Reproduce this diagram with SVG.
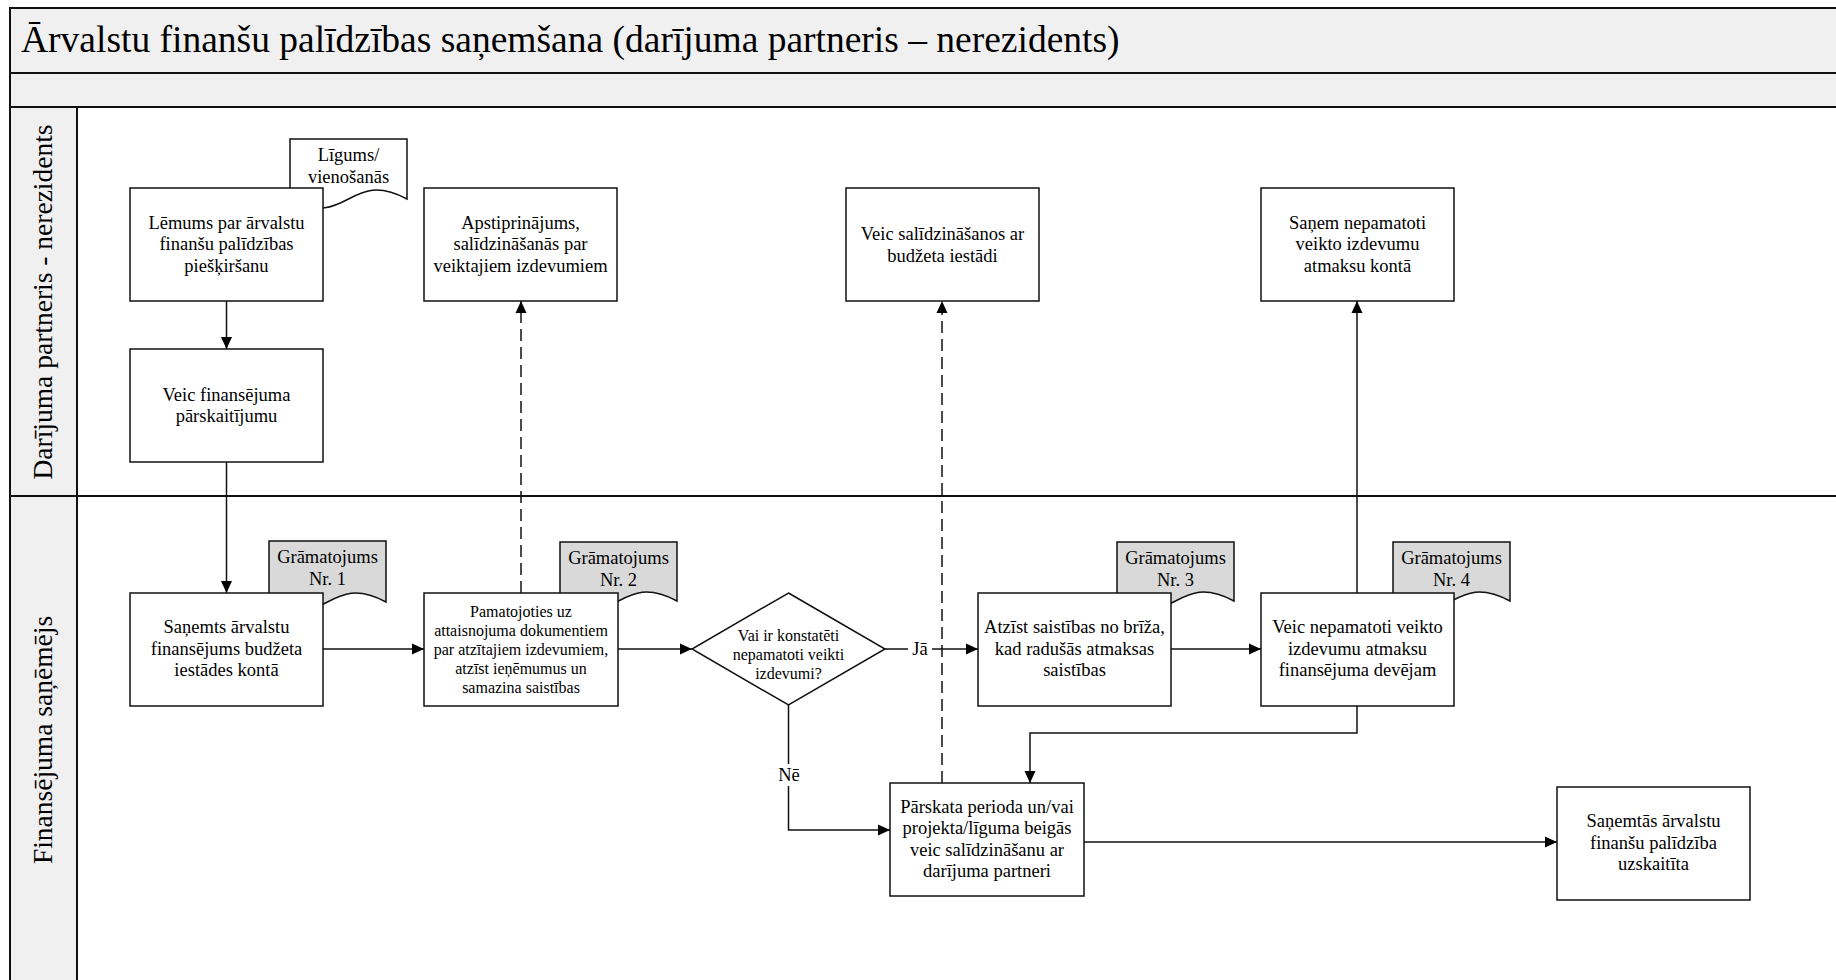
<svg xmlns="http://www.w3.org/2000/svg" width="1836" height="980" viewBox="0 0 1836 980">
<style>
.band{fill:#f0f0f0;stroke:none}
.ln{fill:none;stroke:#111;stroke-width:2}
.box{fill:#fff;stroke:#111;stroke-width:1.5}
.doc{fill:#d9d9d9;stroke:#111;stroke-width:1.5}
.docw{fill:#fff;stroke:#111;stroke-width:1.5}
.t{font-family:"Liberation Serif","Times New Roman",serif;font-size:18.5px;text-anchor:middle;fill:#000}
.ts{font-size:16px}
.lane{font-family:"Liberation Serif","Times New Roman",serif;font-size:27.5px;text-anchor:middle;fill:#000}
.title{font-family:"Liberation Serif","Times New Roman",serif;font-size:37.5px;fill:#000}
.conn{fill:none;stroke:#111;stroke-width:1.5}
.dash{stroke-dasharray:12 6}
.lbl{fill:#fff;stroke:none}
</style>
<defs>
<marker id="arr" markerUnits="userSpaceOnUse" markerWidth="13" markerHeight="12" refX="12" refY="6" orient="auto">
<path d="M0,0.5 L12,6 L0,11.5 Z" fill="#000"/>
</marker>
</defs>

<g id="frame">
<rect class="band" x="10" y="8" width="1830" height="99"/>
<rect class="band" x="10" y="107" width="67" height="880"/>
<rect x="77" y="107" width="1763" height="880" fill="#fff"/>
<path class="ln" d="M10,990 V8 H1840 M10,73 H1840 M10,107 H1840 M10,496 H1840 M77,107 V990"/>
<text class="title" x="21" y="52">Ārvalstu finanšu palīdzības saņemšana (darījuma partneris – nerezidents)</text>
</g>

<g id="lane-partneris">
<text class="lane" transform="translate(52,302) rotate(-90)">Darījuma partneris - nerezidents</text>
</g>
<g id="lane-sanemejs">
<text class="lane" transform="translate(52,740) rotate(-90)">Finansējuma saņēmējs</text>
</g>

<g id="connectors">
<path class="conn" d="M226.5,301 V349" marker-end="url(#arr)"/>
<path class="conn" d="M226.5,462 V593" marker-end="url(#arr)"/>
<path class="conn" d="M323,649 H424" marker-end="url(#arr)"/>
<path class="conn dash" d="M521,593 V301" marker-end="url(#arr)"/>
<path class="conn" d="M618,649 H692" marker-end="url(#arr)"/>
<path class="conn" d="M885,649 H978" marker-end="url(#arr)"/>
<path class="conn" d="M788.5,705 V830 H890" marker-end="url(#arr)"/>
<path class="conn dash" d="M942,783 V301" marker-end="url(#arr)"/>
<path class="conn" d="M1171,649 H1261" marker-end="url(#arr)"/>
<path class="conn" d="M1357,593 V301" marker-end="url(#arr)"/>
<path class="conn" d="M1357,706 V733 H1030 V783" marker-end="url(#arr)"/>
<path class="conn" d="M1084,842 H1557" marker-end="url(#arr)"/>
<rect class="lbl" x="908" y="639" width="24" height="20"/>
<text class="t" x="920" y="655">Jā</text>
<rect class="lbl" x="776" y="764" width="26" height="22"/>
<text class="t" x="789" y="781">Nē</text>
</g>

<g id="doc-ligums">
<path class="docw" d="M290,139 H407 V199 C348.5,168 348.5,230 290,199 Z"/>
<text class="t" x="348.5" y="161">Līgums/</text>
<text class="t" x="348.5" y="183">vienošanās</text>
</g>
<g id="doc-gr1">
<path class="doc" d="M269,541 H386 V602 C327.5,571 327.5,633 269,602 Z"/>
<text class="t" x="327.5" y="563">Grāmatojums</text>
<text class="t" x="327.5" y="585">Nr. 1</text>
</g>
<g id="doc-gr2">
<path class="doc" d="M560,542 H677 V601 C618.5,570 618.5,632 560,601 Z"/>
<text class="t" x="618.5" y="564">Grāmatojums</text>
<text class="t" x="618.5" y="586">Nr. 2</text>
</g>
<g id="doc-gr3">
<path class="doc" d="M1117,542 H1234 V601 C1175.5,570 1175.5,632 1117,601 Z"/>
<text class="t" x="1175.5" y="564">Grāmatojums</text>
<text class="t" x="1175.5" y="586">Nr. 3</text>
</g>
<g id="doc-gr4">
<path class="doc" d="M1393,542 H1510 V601 C1451.5,570 1451.5,632 1393,601 Z"/>
<text class="t" x="1451.5" y="564">Grāmatojums</text>
<text class="t" x="1451.5" y="586">Nr. 4</text>
</g>

<g id="n-lemums">
<rect class="box" x="130" y="188" width="193" height="113"/>
<text class="t" x="226.5" y="228.5">Lēmums par ārvalstu</text>
<text class="t" x="226.5" y="250">finanšu palīdzības</text>
<text class="t" x="226.5" y="271.5">piešķiršanu</text>
</g>
<g id="n-veic-fin">
<rect class="box" x="130" y="349" width="193" height="113"/>
<text class="t" x="226.5" y="400.5">Veic finansējuma</text>
<text class="t" x="226.5" y="422">pārskaitījumu</text>
</g>
<g id="n-apstipr">
<rect class="box" x="424" y="188" width="193" height="113"/>
<text class="t" x="520.5" y="228.5">Apstiprinājums,</text>
<text class="t" x="520.5" y="250">salīdzināšanās par</text>
<text class="t" x="520.5" y="271.5">veiktajiem izdevumiem</text>
</g>
<g id="n-veic-salidz">
<rect class="box" x="846" y="188" width="193" height="113"/>
<text class="t" x="942.5" y="240">Veic salīdzināšanos ar</text>
<text class="t" x="942.5" y="261.5">budžeta iestādi</text>
</g>
<g id="n-sanem">
<rect class="box" x="1261" y="188" width="193" height="113"/>
<text class="t" x="1357.5" y="228.5">Saņem nepamatoti</text>
<text class="t" x="1357.5" y="250">veikto izdevumu</text>
<text class="t" x="1357.5" y="271.5">atmaksu kontā</text>
</g>
<g id="n-sanemts">
<rect class="box" x="130" y="593" width="193" height="113"/>
<text class="t" x="226.5" y="633">Saņemts ārvalstu</text>
<text class="t" x="226.5" y="654.5">finansējums budžeta</text>
<text class="t" x="226.5" y="676">iestādes kontā</text>
</g>
<g id="n-pamatojoties">
<rect class="box" x="424" y="593" width="194" height="113"/>
<text class="t ts" x="521" y="617">Pamatojoties uz</text>
<text class="t ts" x="521" y="636">attaisnojuma dokumentiem</text>
<text class="t ts" x="521" y="655">par atzītajiem izdevumiem,</text>
<text class="t ts" x="521" y="674">atzīst ieņēmumus un</text>
<text class="t ts" x="521" y="693">samazina saistības</text>
</g>
<g id="n-diamond">
<polygon class="box" points="788.5,593 885,649 788.5,705 692,649"/>
<text class="t ts" x="788.5" y="641">Vai ir konstatēti</text>
<text class="t ts" x="788.5" y="660">nepamatoti veikti</text>
<text class="t ts" x="788.5" y="679">izdevumi?</text>
</g>
<g id="n-atzist">
<rect class="box" x="978" y="593" width="193" height="113"/>
<text class="t" x="1074.5" y="633">Atzīst saistības no brīža,</text>
<text class="t" x="1074.5" y="654.5">kad radušās atmaksas</text>
<text class="t" x="1074.5" y="676">saistības</text>
</g>
<g id="n-veic-nepam">
<rect class="box" x="1261" y="593" width="193" height="113"/>
<text class="t" x="1357.5" y="633">Veic nepamatoti veikto</text>
<text class="t" x="1357.5" y="654.5">izdevumu atmaksu</text>
<text class="t" x="1357.5" y="676">finansējuma devējam</text>
</g>
<g id="n-parskata">
<rect class="box" x="890" y="783" width="194" height="113"/>
<text class="t" x="987" y="812.5">Pārskata perioda un/vai</text>
<text class="t" x="987" y="834">projekta/līguma beigās</text>
<text class="t" x="987" y="855.5">veic salīdzināšanu ar</text>
<text class="t" x="987" y="877">darījuma partneri</text>
</g>
<g id="n-sanemtas">
<rect class="box" x="1557" y="787" width="193" height="113"/>
<text class="t" x="1653.5" y="827">Saņemtās ārvalstu</text>
<text class="t" x="1653.5" y="848.5">finanšu palīdzība</text>
<text class="t" x="1653.5" y="870">uzskaitīta</text>
</g>
</svg>
